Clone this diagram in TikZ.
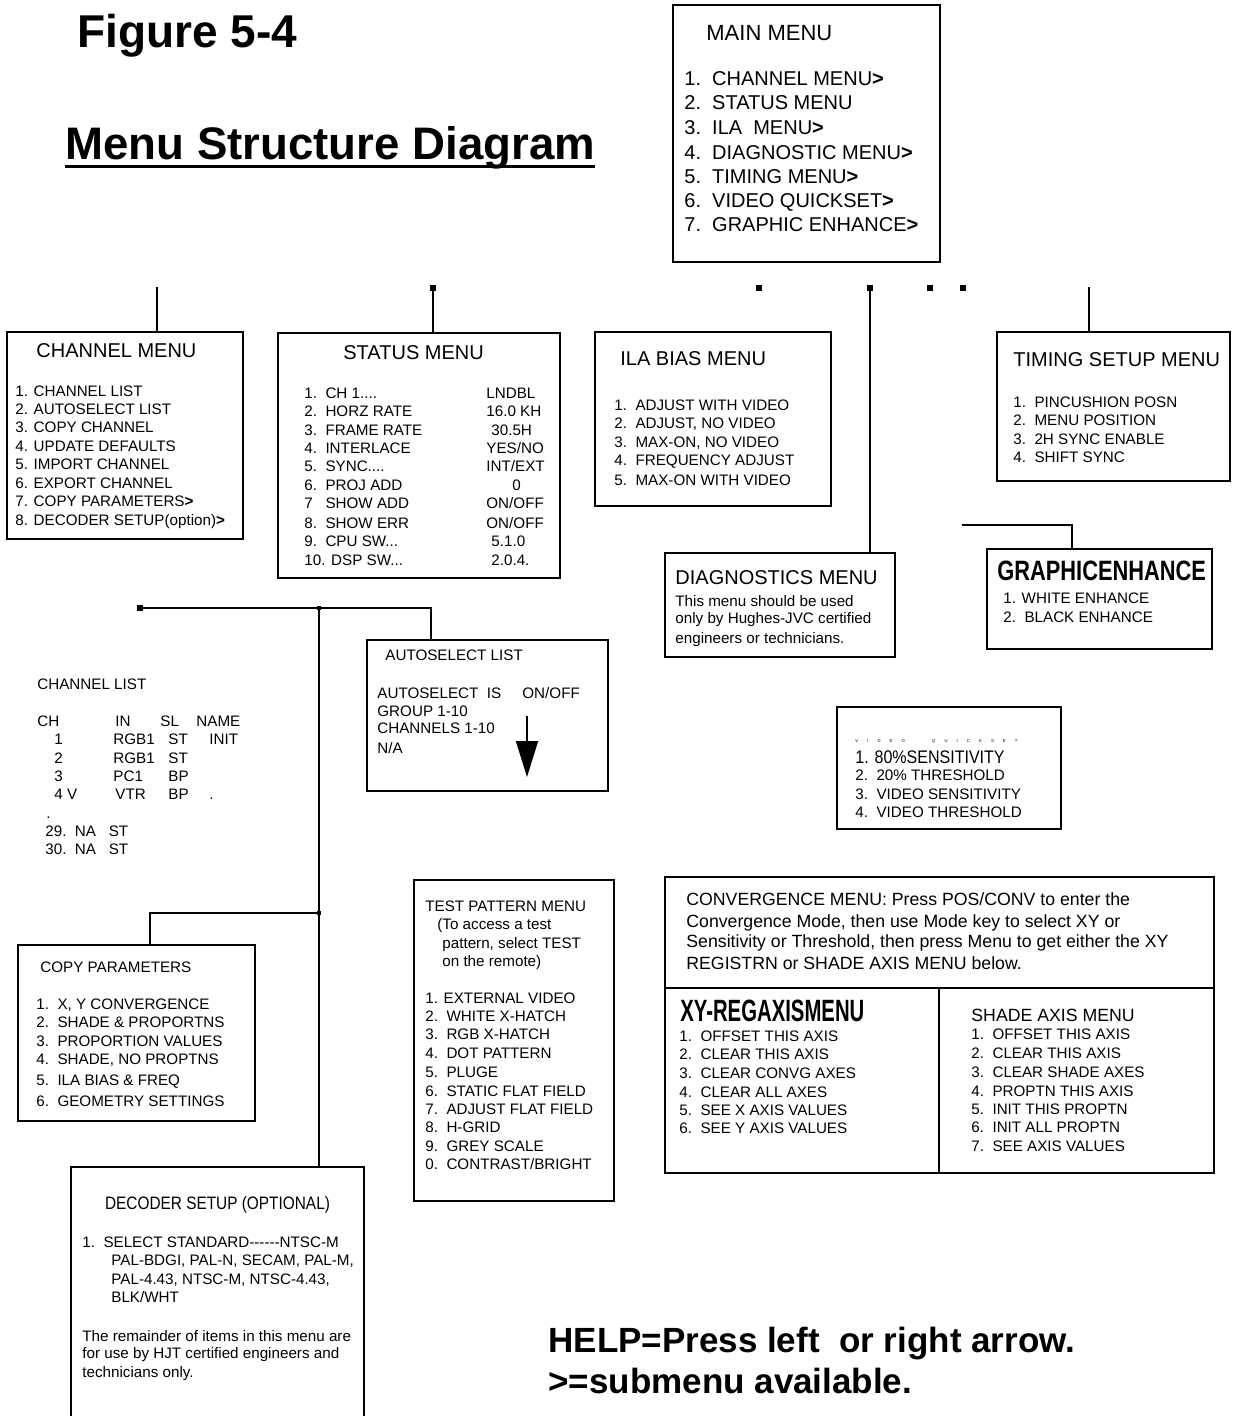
\documentclass[tikz,border=0pt]{standalone}
\usepackage{fontspec}
\setmainfont{Liberation Sans}
\newfontfamily\spacedfont[WordSpace=7.8]{Liberation Sans}
\usetikzlibrary{fit,arrows.meta}

\begin{document}
\begin{tikzpicture}[x=0.5pt,y=-0.5pt,
  box/.style={draw=drawColor,line width=1.2pt,inner sep=0pt},
  link/.style={draw=drawColor,line width=1.2pt},
  stub/.style={fill=drawColor,inner sep=0pt,minimum size=2.6pt},
  knot/.style={fill=drawColor,inner sep=0pt,minimum size=2pt},
  hd/.style={anchor=base west,inner sep=0pt,font=\fontsize{10}{12}\selectfont},
  tx/.style={anchor=base west,inner sep=0pt,font=\fontsize{7.6}{9}\selectfont},
  conv/.style={anchor=base west,inner sep=0pt,font=\fontsize{8.85}{10.5}\selectfont},
  heavy/.style={anchor=base west,inner sep=0pt,font=\bfseries\fontsize{#1}{#1}\selectfont}]
\definecolor{drawColor}{RGB}{0,0,0}
\path[use as bounding box] (0,0) rectangle (1233,1416);

\node[heavy=23] (figno) at (77,48) {Figure 5-4};
\node[heavy=22.8] (pagettl) at (65,160) {Menu Structure Diagram};
\draw[line width=1.5pt] ([yshift=-3.5pt]pagettl.base west) -- ([yshift=-3.5pt]pagettl.base east);

% main menu
\node[box,fit={(673,5) (940,262)}] (mainmenu) {};
\node[anchor=base west,inner sep=0pt,font=\fontsize{11}{13}\selectfont] (mmttl) at (706,41) {MAIN MENU};
\node[hd] (mm1) at (684,86) {1.~~CHANNEL MENU\textbf{>}};
\node[hd] (mm2) at (684,110) {2.~~STATUS MENU};
\node[hd] (mm3) at (684,135) {3.~~ILA~~MENU\textbf{>}};
\node[hd] (mm4) at (684,160) {4.~~DIAGNOSTIC MENU\textbf{>}};
\node[hd] (mm5) at (684,184) {5.~~TIMING MENU\textbf{>}};
\node[hd] (mm6) at (684,208) {6.~~VIDEO QUICKSET\textbf{>}};
\node[hd] (mm7) at (684,232) {7.~~GRAPHIC ENHANCE\textbf{>}};

% row of first level menus
\node[box,fit={(7,332) (243,539)}] (chmenu) {};
\node[box,fit={(278,333) (560,578)}] (status) {};
\node[box,fit={(595,332) (831,506)}] (ilabias) {};
\node[box,fit={(997,332) (1230,481)}] (timing) {};
\node[box,fit={(665,553) (895,657)}] (diag) {};
\node[box,fit={(987,549) (1212,649)}] (gfx) {};

\coordinate (chtop) at (157,287);
\node[stub] (sttop) at (433,288) {};
\node[stub] (ilatop) at (759,288) {};
\node[stub] (diagtop) at (870,288) {};
\node[stub] (vqdot) at (930,288) {};
\node[stub] (gfxdot) at (963,288) {};
\coordinate (timtop) at (1089,287);
\coordinate (gtop) at (962,525);
\coordinate (gbend) at (1072,525);

\draw[link] (chtop) -- (chtop |- chmenu.north);
\draw[link] (sttop) -- (sttop |- status.north);
\draw[link] (diagtop) -- (diagtop |- diag.north);
\draw[link] (timtop) -- (timtop |- timing.north);
\draw[link] (gtop) -- (gbend) -- (gbend |- gfx.north);

\node[hd] (chttl) at (36,358) {CHANNEL MENU};
\node[tx] (ch1) at (15,397) {1. CHANNEL LIST};
\node[tx] (ch2) at (15,415) {2. AUTOSELECT LIST};
\node[tx] (ch3) at (15,433) {3. COPY CHANNEL};
\node[tx] (ch4) at (15,452) {4. UPDATE DEFAULTS};
\node[tx] (ch5) at (15,470) {5. IMPORT CHANNEL};
\node[tx] (ch6) at (15,488) {6. EXPORT CHANNEL};
\node[tx] (ch7) at (15,507) {7. COPY PARAMETERS\textbf{>}};
\node[tx] (ch8) at (15,525) {8. DECODER SETUP(option)\textbf{>}};

\node[hd] (stttl) at (343,360) {STATUS MENU};
\node[tx] (st1) at (304,399) {1.~~CH 1....};
\node[tx] (st2) at (304,417) {2.~~HORZ RATE};
\node[tx] (st3) at (304,436) {3.~~FRAME RATE};
\node[tx] (st4) at (304,454) {4.~~INTERLACE};
\node[tx] (st5) at (304,472) {5.~~SYNC....};
\node[tx] (st6) at (304,491) {6.~~PROJ ADD};
\node[tx] (st7) at (304,509) {7~~~SHOW ADD};
\node[tx] (st8) at (304,528) {8.~~SHOW ERR};
\node[tx] (st9) at (304,546) {9.~~CPU SW...};
\node[tx] (st10) at (304,565) {10. DSP SW...};
\node[tx] (st1v) at (486,399) {LNDBL};
\node[tx] (st2v) at (486,417) {16.0 KH};
\node[tx] (st3v) at (491,436) {30.5H};
\node[tx] (st4v) at (486,454) {YES/NO};
\node[tx] (st5v) at (486,472) {INT/EXT};
\node[tx] (st6v) at (512,491) {0};
\node[tx] (st7v) at (486,509) {ON/OFF};
\node[tx] (st8v) at (486,528) {ON/OFF};
\node[tx] (st9v) at (491,546) {5.1.0};
\node[tx] (st10v) at (491,565) {2.0.4.};

\node[hd] (ilattl) at (620,366) {ILA BIAS MENU};
\node[tx] (ila1) at (614,411) {1.~~ADJUST WITH VIDEO};
\node[tx] (ila2) at (614,429) {2.~~ADJUST, NO VIDEO};
\node[tx] (ila3) at (614,448) {3.~~MAX-ON, NO VIDEO};
\node[tx] (ila4) at (614,466) {4.~~FREQUENCY ADJUST};
\node[tx] (ila5) at (614,486) {5.~~MAX-ON WITH VIDEO};

\node[hd] (timttl) at (1013,367) {TIMING SETUP MENU};
\node[tx] (tim1) at (1013,408) {1.~~PINCUSHION POSN};
\node[tx] (tim2) at (1013,426) {2.~~MENU POSITION};
\node[tx] (tim3) at (1013,445) {3.~~2H SYNC ENABLE};
\node[tx] (tim4) at (1013,463) {4.~~SHIFT SYNC};

\node[hd] (diagttl) at (675,584) {DIAGNOSTICS MENU};
\node[tx] (diag1) at (675,606) {This menu should be used};
\node[tx] (diag2) at (675,623) {only by Hughes-JVC certified};
\node[tx] (diag3) at (675,643) {engineers or technicians.};

\node[heavy=14,xscale=0.78] (gfxttl) at (997,580) {GRAPHICENHANCE};
\node[tx] (gfx1) at (1003,603) {1. WHITE ENHANCE};
\node[tx] (gfx2) at (1003,622) {2.~~BLACK ENHANCE};

% channel menu branches
\node[box,fit={(367,640) (608,791)}] (autosel) {};
\node[box,fit={(18,945) (255,1121)}] (copypar) {};
\node[box,fit={(71,1167) (364,1430)}] (decoder) {};
\node[stub] (clstart) at (140,608) {};
\node[knot] (jtop) at (319,608) {};
\node[knot] (jmid) at (319,913) {};
\coordinate (asbend) at (431,608);
\coordinate (cpbend) at (150,913);
\draw[link] (clstart) -- (asbend) -- (asbend |- autosel.north);
\draw[link] (jtop) -- (jtop |- decoder.north);
\draw[link] (jmid) -- (cpbend) -- (cpbend |- copypar.north);

\node[tx] (clttl) at (37,689) {CHANNEL LIST};
\node[tx] (clch) at (37,726) {CH};
\node[tx] (clin) at (115,726) {IN};
\node[tx] (clsl) at (160,726) {SL};
\node[tx] (clname) at (196,726) {NAME};
\node[tx] (cl1a) at (54,744) {1};
\node[tx] (cl1b) at (113,744) {RGB1};
\node[tx] (cl1c) at (168,744) {ST};
\node[tx] (cl1d) at (209,744) {INIT};
\node[tx] (cl2a) at (54,763) {2};
\node[tx] (cl2b) at (113,763) {RGB1};
\node[tx] (cl2c) at (168,763) {ST};
\node[tx] (cl3a) at (54,781) {3};
\node[tx] (cl3b) at (113,781) {PC1};
\node[tx] (cl3c) at (168,781) {BP};
\node[tx] (cl4a) at (54,799) {4 V};
\node[tx] (cl4b) at (115,799) {VTR};
\node[tx] (cl4c) at (168,799) {BP};
\node[tx] (cl4d) at (209,799) {.};
\node[tx] (cldot) at (46,818) {.};
\node[tx] (cl29) at (45,836) {29.~~NA~~~ST};
\node[tx] (cl30) at (45,854) {30.~~NA~~~ST};

\node[tx] (asttl) at (385,660) {AUTOSELECT LIST};
\node[tx] (as1) at (377,698) {AUTOSELECT~~IS};
\node[tx] (as1v) at (522,698) {ON/OFF};
\node[tx] (as2) at (377,716) {GROUP 1-10};
\node[tx] (as3) at (377,733) {CHANNELS 1-10};
\node[tx] (as4) at (377,753) {N/A};
\coordinate (arrtop) at (527,716);
\coordinate (arrtip) at (527,777);
\draw[line width=0.9pt,-{Triangle[length=18pt,width=11pt]}] (arrtop) -- (arrtip);

\node[tx] (cpttl) at (40,972) {COPY PARAMETERS};
\node[tx] (cp1) at (36,1009) {1.~~X, Y CONVERGENCE};
\node[tx] (cp2) at (36,1027) {2.~~SHADE \& PROPORTNS};
\node[tx] (cp3) at (36,1046) {3.~~PROPORTION VALUES};
\node[tx] (cp4) at (36,1064) {4.~~SHADE, NO PROPTNS};
\node[tx] (cp5) at (36,1085) {5.~~ILA BIAS \& FREQ};
\node[tx] (cp6) at (36,1106) {6.~~GEOMETRY SETTINGS};

\node[anchor=base,inner sep=0pt,font=\fontsize{9}{11}\selectfont,xscale=0.855] (dcttl) at (217.5,1209.5) {DECODER SETUP (OPTIONAL)};
\node[tx] (dc1) at (82,1247) {1.~~SELECT STANDARD-{}-{}-{}-{}-{}-NTSC-M};
\node[tx] (dc2) at (111,1265) {PAL-BDGI, PAL-N, SECAM, PAL-M,};
\node[tx] (dc3) at (111,1284) {PAL-4.43, NTSC-M, NTSC-4.43,};
\node[tx] (dc4) at (111,1302) {BLK/WHT};
\node[tx] (dc5) at (82,1341) {The remainder of items in this menu are};
\node[tx] (dc6) at (82,1358) {for use by HJT certified engineers and};
\node[tx] (dc7) at (82,1377) {technicians only.};

% video quickset
\node[box,fit={(837,707) (1061,829)}] (quick) {};
\node[anchor=base west,inner sep=0pt,font=\spacedfont\fontsize{2.1}{3}\selectfont] (vqttl) at (855,742) {V I D E O ~ Q U I C K S E T};
\node[anchor=base west,inner sep=0pt,font=\fontsize{9.1}{11}\selectfont,xscale=0.88] (vq1) at (855,763.5) {1. 80\%SENSITIVITY};
\node[tx] (vq2) at (855,780) {2.~~20\% THRESHOLD};
\node[tx] (vq3) at (855,799) {3.~~VIDEO SENSITIVITY};
\node[tx] (vq4) at (855,817) {4.~~VIDEO THRESHOLD};

% test pattern
\node[box,fit={(414,880) (614,1201)}] (testpat) {};
\node[tx] (tpttl) at (425,911) {TEST PATTERN MENU};
\node[tx] (tpn1) at (437,929) {(To access a test};
\node[tx] (tpn2) at (442,948) {pattern, select TEST};
\node[tx] (tpn3) at (442,966) {on the remote)};
\node[tx] (tp1) at (425,1003) {1. EXTERNAL VIDEO};
\node[tx] (tp2) at (425,1021) {2.~~WHITE X-HATCH};
\node[tx] (tp3) at (425,1039) {3.~~RGB X-HATCH};
\node[tx] (tp4) at (425,1058) {4.~~DOT PATTERN};
\node[tx] (tp5) at (425,1077) {5.~~PLUGE};
\node[tx] (tp6) at (425,1096) {6.~~STATIC FLAT FIELD};
\node[tx] (tp7) at (425,1114) {7.~~ADJUST FLAT FIELD};
\node[tx] (tp8) at (425,1132) {8.~~H-GRID};
\node[tx] (tp9) at (425,1151) {9.~~GREY SCALE};
\node[tx] (tp0) at (425,1169) {0.~~CONTRAST/BRIGHT};

% convergence
\node[box,fit={(665,877) (1214,988)}] (convtop) {};
\node[box,fit={(665,988) (939,1173)}] (xyreg) {};
\node[box,fit={(939,988) (1214,1173)}] (shade) {};
\node[conv] (cv1) at (686,905) {CONVERGENCE MENU: Press POS/CONV to enter the};
\node[conv] (cv2) at (686,927) {Convergence Mode, then use Mode key to select XY or};
\node[conv] (cv3) at (686,947) {Sensitivity or Threshold, then press Menu to get either the XY};
\node[conv] (cv4) at (686,969) {REGISTRN or SHADE AXIS MENU below.};

\node[heavy=15.4,xscale=0.66] (xyttl) at (680,1021) {XY-REGAXISMENU};
\node[tx] (xy1) at (679,1041) {1.~~OFFSET THIS AXIS};
\node[tx] (xy2) at (679,1059) {2.~~CLEAR THIS AXIS};
\node[tx] (xy3) at (679,1078) {3.~~CLEAR CONVG AXES};
\node[tx] (xy4) at (679,1097) {4.~~CLEAR ALL AXES};
\node[tx] (xy5) at (679,1115) {5.~~SEE X AXIS VALUES};
\node[tx] (xy6) at (679,1133) {6.~~SEE Y AXIS VALUES};

\node[conv] (shttl) at (971,1021) {SHADE AXIS MENU};
\node[tx] (sh1) at (971,1039) {1.~~OFFSET THIS AXIS};
\node[tx] (sh2) at (971,1058) {2.~~CLEAR THIS AXIS};
\node[tx] (sh3) at (971,1077) {3.~~CLEAR SHADE AXES};
\node[tx] (sh4) at (971,1096) {4.~~PROPTN THIS AXIS};
\node[tx] (sh5) at (971,1114) {5.~~INIT THIS PROPTN};
\node[tx] (sh6) at (971,1132) {6.~~INIT ALL PROPTN};
\node[tx] (sh7) at (971,1151) {7.~~SEE AXIS VALUES};

% help notes
\node[heavy=17.5] (help1) at (548,1352) {HELP=Press left~~or right arrow.};
\node[heavy=17.5] (help2) at (548,1393) {>=submenu available.};
\end{tikzpicture}
\end{document}
